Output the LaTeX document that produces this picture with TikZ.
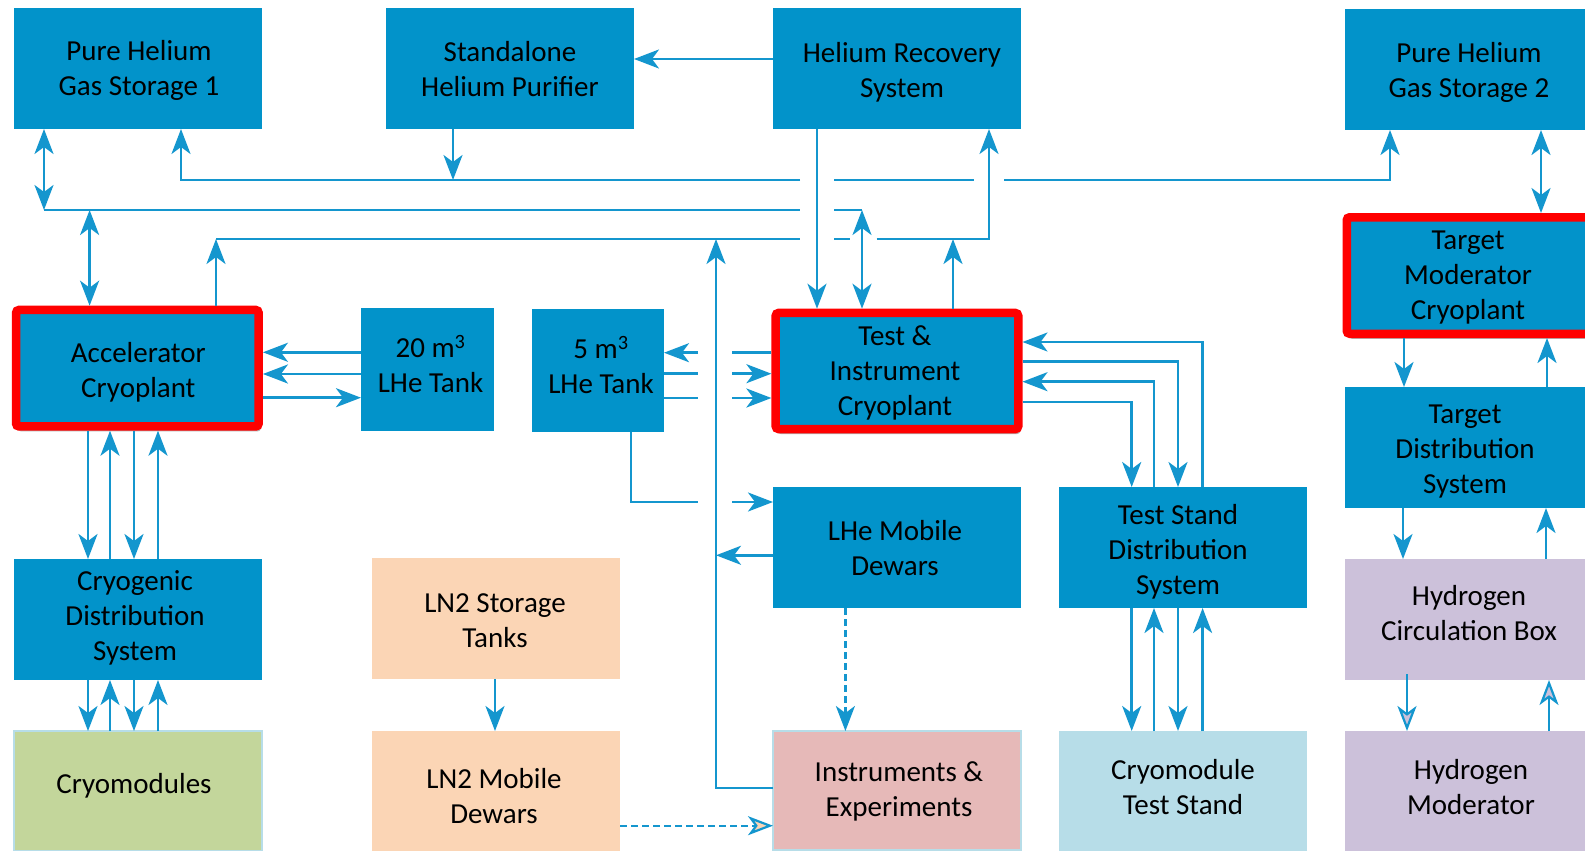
\documentclass[tikz,border=0pt]{standalone}
\usepackage{fontspec}
\setmainfont{Carlito}
\usetikzlibrary{arrows.meta,shadows}
\definecolor{boxblue}{RGB}{2,147,202}
\definecolor{lineblue}{RGB}{20,150,206}
\definecolor{redb}{RGB}{255,0,0}
\definecolor{peach}{RGB}{251,213,181}
\definecolor{olivel}{RGB}{195,214,155}
\definecolor{pinkb}{RGB}{230,185,184}
\definecolor{ltblue}{RGB}{183,221,232}
\definecolor{lilac}{RGB}{204,193,218}
\begin{document}
\begin{tikzpicture}[x=1pt,y=-1pt,
  font=\fontsize{29}{35}\selectfont,
  box/.style={rectangle, fill=boxblue, inner sep=0pt, outer sep=0pt, anchor=north west, minimum width=248pt, minimum height=121pt},
  redbox/.style={box, draw=redb, line width=8.5pt, rounded corners=3pt, outer sep=4.25pt, minimum width=242.6pt, minimum height=116.5pt,
     drop shadow={shadow xshift=2pt, shadow yshift=-5pt, opacity=0.3, fill=black}},
  tx/.style={align=center, inner sep=0pt, text=black},
  ln/.style={draw=lineblue, line width=2.8pt},
  arr/.style={ln, -{Stealth[length=25pt,width=19pt,inset=7pt]}},
  darr/.style={ln, {Stealth[length=25pt,width=19pt,inset=7pt]}-{Stealth[length=25pt,width=19pt,inset=7pt]}},
  harr/.style={draw=lineblue, line width=2.2pt, -{Stealth[length=25pt,width=19pt,inset=7pt,fill=lilac]}},
  dsh/.style={draw=lineblue, line width=2.4pt, dash pattern=on 7pt off 4pt},
]
\useasboundingbox (0,0) rectangle (1585,851);
\clip (0,0) rectangle (1585,851);

% ---- boxes ----
\node[box] (phg1) at (14,8) {};
\node[box] (shp) at (386,8) {};
\node[box] (hrs) at (773,8) {};
\node[box] (phg2) at (1345,9) {};
\node[redbox] (tmc) at (1342.5,213) {};
\node[redbox] (acc) at (11.8,305.7) {};
\node[box, minimum width=133pt, minimum height=123pt] (tank20) at (361,308) {};
\node[box, minimum width=132pt, minimum height=123pt] (tank5) at (532,309) {};
\node[redbox, minimum height=116.1pt] (tic) at (771.4,308.7) {};
\node[box] (tds) at (1345,387) {};
\node[box] (lhemd) at (773,487) {};
\node[box] (tsds) at (1059,487) {};
\node[box] (cds) at (14,559) {};
\node[box, fill=peach] (ln2st) at (372,558) {};
\node[box, fill=lilac] (hcb) at (1345,559) {};
\node[box, fill=olivel, draw=ltblue, line width=2.5pt, minimum height=120pt] (cm) at (14,731) {};
\node[box, fill=peach, minimum height=120pt] (ln2md) at (372,731) {};
\node[box, fill=pinkb, draw=ltblue, line width=2.5pt, minimum height=119pt] (ie) at (773,731) {};
\node[box, fill=ltblue, minimum height=120pt] (cts) at (1059,731) {};
\node[box, fill=lilac, minimum height=120pt] (hm) at (1345,731) {};

% ---- texts ----
\node[tx] (phg1t) at ([shift={(1,2)}]phg1.center) {Pure Helium\\Gas Storage 1};
\node[tx] (shpt) at ([shift={(0,1)}]shp.center) {Standalone\\Helium Purifier};
\node[tx] (hrst) at ([shift={(5,4)}]hrs.center) {Helium Recovery\\System};
\node[tx] (phg2t) at ([shift={(0,3)}]phg2.center) {Pure Helium\\Gas Storage 2};
\node[tx] (tmct) at ([shift={(0,2)}]tmc.center) {Target\\Moderator\\Cryoplant};
\node[tx] (acct) at ([shift={(1,4)}]acc.center) {Accelerator\\Cryoplant};
\node[tx] (tank20t) at ([shift={(3,-5)}]tank20.center) {20 m\textsuperscript{3}\\LHe Tank};
\node[tx] (tank5t) at ([shift={(3,-5)}]tank5.center) {5 m\textsuperscript{3}\\LHe Tank};
\node[tx] (tict) at ([shift={(-2,1.5)}]tic.center) {Test \&\\Instrument\\Cryoplant};
\node[tx] (tdst) at ([shift={(-4,4)}]tds.center) {Target\\Distribution\\System};
\node[tx] (lhemdt) at ([shift={(-2,1)}]lhemd.center) {LHe Mobile\\Dewars};
\node[tx] (tsdst) at ([shift={(-5,4)}]tsds.center) {Test Stand\\Distribution\\System};
\node[tx] (cdst) at ([shift={(-3,-2)}]cds.center) {Cryogenic\\Distribution\\System};
\node[tx] (ln2stt) at ([shift={(-1,2)}]ln2st.center) {LN2 Storage\\Tanks};
\node[tx] (hcbt) at ([shift={(0,-6)}]hcb.center) {Hydrogen\\Circulation Box};
\node[tx] (cmt) at ([shift={(-4,-5)}]cm.center) {Cryomodules};
\node[tx] (ln2mdt) at ([shift={(-2,5)}]ln2md.center) {LN2 Mobile\\Dewars};
\node[tx] (iet) at ([shift={(2,1)}]ie.center) {Instruments \&\\Experiments};
\node[tx] (ctst) at ([shift={(0,-3.5)}]cts.center) {Cryomodule\\Test Stand};
\node[tx] (hmt) at ([shift={(2,-4)}]hm.center) {Hydrogen\\Moderator};

% ---- bus coordinates ----
\coordinate (b1a) at (181,180);  \coordinate (b1b) at (800,180);
\coordinate (b1c) at (834,180);  \coordinate (b1d) at (973.5,180);
\coordinate (b1e) at (1004,180); \coordinate (b1s) at (453,180);
\coordinate (b2a) at (44,210);   \coordinate (b2b) at (800,210);
\coordinate (b2c) at (834,210);  \coordinate (b2d) at (862,210);
\coordinate (b2v) at (89.6,210);
\coordinate (b3a) at (216,239);  \coordinate (b3b) at (800,239);
\coordinate (b3c) at (834,239);  \coordinate (b3d) at (849.5,239);
\coordinate (b3e) at (876.5,239);\coordinate (b3r) at (716,239);
\coordinate (b3t) at (953,239);

% ---- top connectors ----
\draw[arr] (hrs.west |- 0,59) -- (shp.east |- 0,59);
\draw[darr] (phg1.south -| b2a) -- (b2a);
\draw[ln] (b2a) -- (b2b);
\draw[ln] (b2c) -- (b2d);
\draw[darr] (b2v) -- (acc.north -| b2v);
\draw[arr] (b1b) -| (phg1.south -| b1a);
\draw[ln] (b1c) -- (b1d);
\draw[arr] (b1e) -| (phg2.south -| 1390,0);
\draw[arr] (shp.south -| b1s) -- (b1s);
\draw[arr] (acc.north -| b3a) -- (b3a);
\draw[ln] (b3a) -- (b3b);
\draw[ln] (b3c) -- (b3d);
\draw[arr] (b3e) -| (hrs.south -| 989,0);
\draw[arr] (hrs.south -| 817,0) -- (tic.north -| 817,0);
\draw[darr] (b2d) -- (tic.north -| b2d);
\draw[arr] (tic.north -| b3t) -- (b3t);

% ---- target side ----
\draw[darr] (phg2.south -| 1541,0) -- (tmc.north -| 1541,0);
\draw[arr] (tmc.south -| 1404,0) -- (tds.north -| 1404,0);
\draw[arr] (tds.north -| 1547,0) -- (tmc.south -| 1547,0);
\draw[arr] (tds.south -| 1403,0) -- (hcb.north -| 1403,0);
\draw[arr] (hcb.north -| 1546,0) -- (tds.south -| 1546,0);
\draw[harr] (1407,674) -- (hm.north -| 1407,0);
\draw[harr] (hm.north -| 1549,0) -- (hcb.south -| 1549,0);

% ---- accelerator side ----
\draw[arr] (tank20.west |- 0,352.3) -- (acc.east |- 0,352.3);
\draw[arr] (tank20.west |- 0,374) -- (acc.east |- 0,374);
\draw[arr] (acc.east |- 0,397.7) -- (tank20.west |- 0,397.7);
\draw[arr] (acc.south -| 88,0) -- (cds.north -| 88,0);
\draw[arr] (cds.north -| 110,0) -- (acc.south -| 110,0);
\draw[arr] (acc.south -| 134,0) -- (cds.north -| 134,0);
\draw[arr] (cds.north -| 158,0) -- (acc.south -| 158,0);
\draw[arr] (cds.south -| 88,0) -- (cm.north -| 88,0);
\draw[arr] (cm.north -| 110,0) -- (cds.south -| 110,0);
\draw[arr] (cds.south -| 134,0) -- (cm.north -| 134,0);
\draw[arr] (cm.north -| 158,0) -- (cds.south -| 158,0);
\draw[arr] (ln2st.south -| 495,0) -- (ln2md.north -| 495,0);

% ---- 5 m3 tank / test side ----
\coordinate (gl1) at (698,352.7); \coordinate (gr1) at (732,352.7);
\coordinate (gl2) at (698,373.7); \coordinate (gr2) at (732,373.7);
\coordinate (gl3) at (698,398);   \coordinate (gr3) at (732,398);
\coordinate (gl4) at (698,502);   \coordinate (gr4) at (732,502);
\draw[ln] (tic.west |- gr1) -- (gr1);
\draw[arr] (gl1) -- (tank5.east |- gl1);
\draw[ln] (tank5.east |- gl2) -- (gl2);
\draw[arr] (gr2) -- (tic.west |- gr2);
\draw[ln] (tank5.east |- gl3) -- (gl3);
\draw[arr] (gr3) -- (tic.west |- gr3);
\draw[ln] (tank5.south -| 631,0) |- (gl4);
\draw[arr] (gr4) -- (lhemd.west |- gr4);
\draw[arr] (ie.west |- 0,788) -| (b3r);
\draw[arr] (lhemd.west |- 0,555.3) -- (716,555.3);
\draw[dsh, -{Stealth[length=25pt,width=19pt,inset=7pt]}] (lhemd.south -| 845.4,0) -- (ie.north -| 845.4,0);
\draw[dsh, line width=2.2pt, -{Stealth[length=25pt,width=19pt,inset=7pt,fill=peach]}] (ln2md.east |- 0,825.7) -- (ie.west |- 0,825.7);

% ---- test stand ----
\draw[arr] (tsds.north -| 1202.6,0) |- (tic.east |- 0,342);
\draw[arr] (tic.east |- 0,361.7) -| (tsds.north -| 1178,0);
\draw[arr] (tsds.north -| 1154,0) |- (tic.east |- 0,381.7);
\draw[arr] (tic.east |- 0,402) -| (tsds.north -| 1131.7,0);
\draw[arr] (tsds.south -| 1131.7,0) -- (cts.north -| 1131.7,0);
\draw[arr] (cts.north -| 1154,0) -- (tsds.south -| 1154,0);
\draw[arr] (tsds.south -| 1178,0) -- (cts.north -| 1178,0);
\draw[arr] (cts.north -| 1202.6,0) -- (tsds.south -| 1202.6,0);
\end{tikzpicture}
\end{document}
